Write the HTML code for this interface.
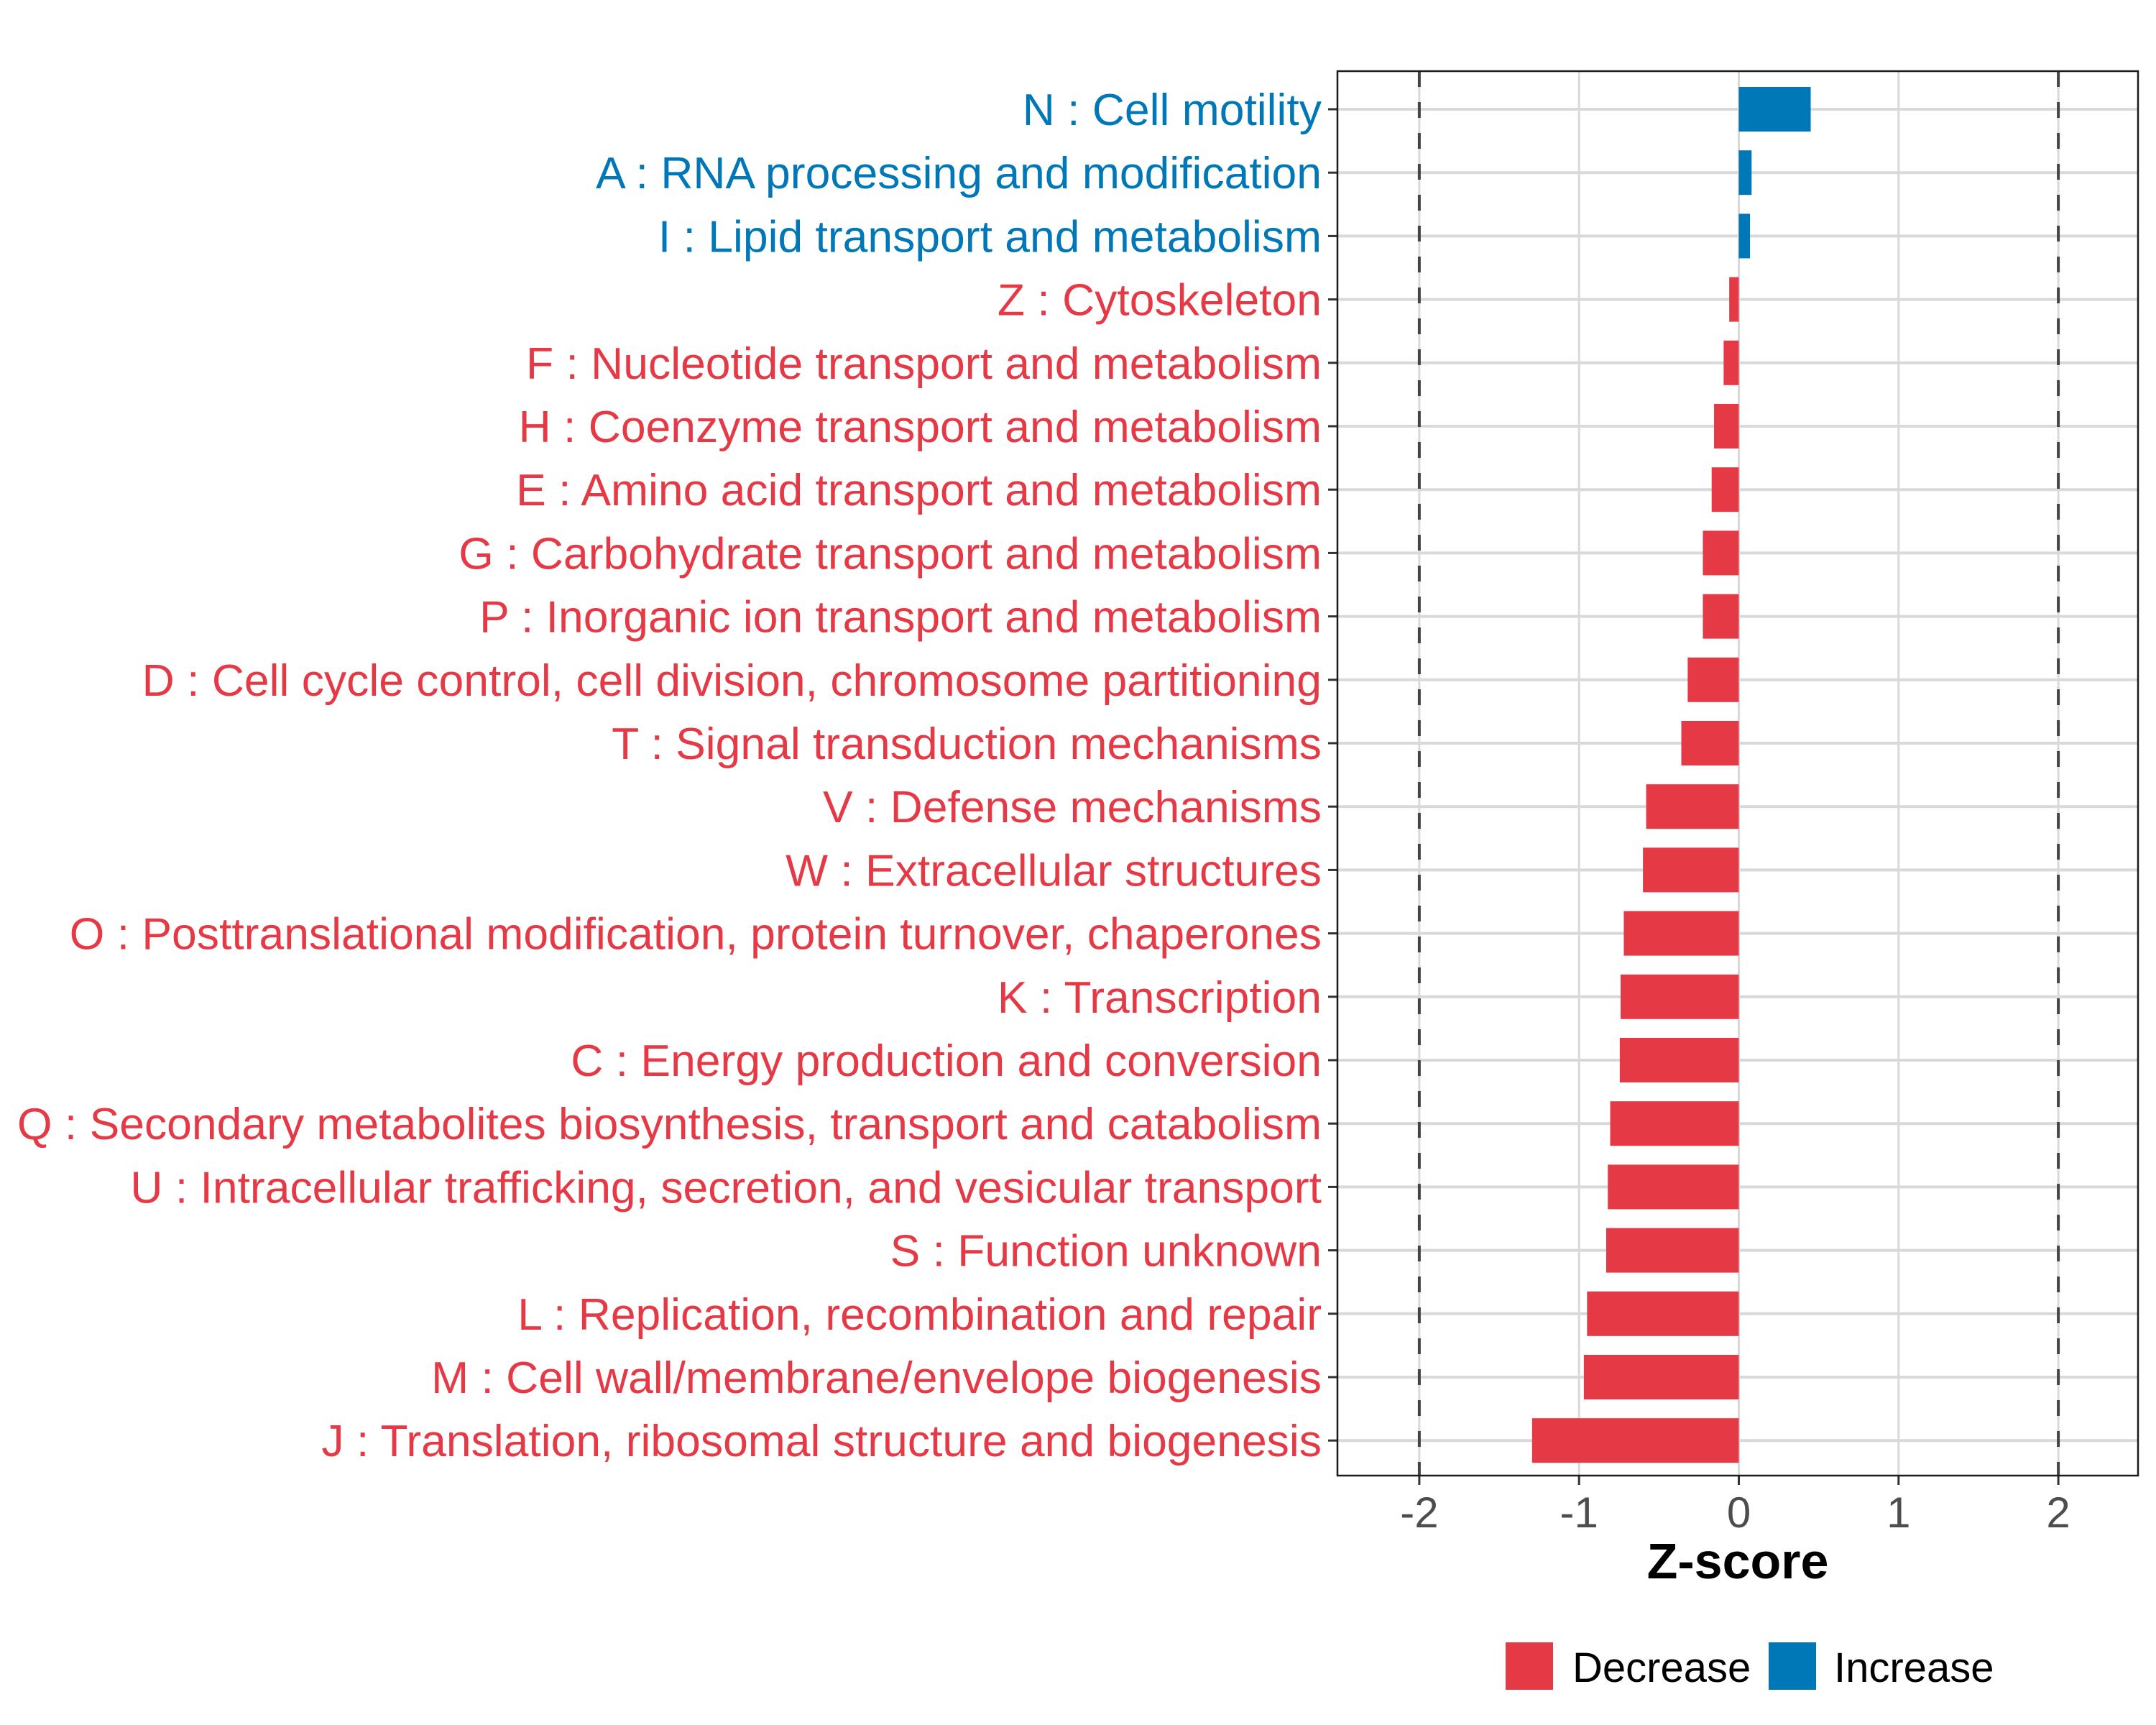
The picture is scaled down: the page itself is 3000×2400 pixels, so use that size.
<!DOCTYPE html>
<html><head><meta charset="utf-8"><style>
html,body{margin:0;padding:0;background:#fff;}
svg{display:block;font-family:"Liberation Sans",sans-serif;}
</style></head><body>
<svg id="chart" width="3000" height="2400" viewBox="0 0 3000 2400" xmlns="http://www.w3.org/2000/svg">
<rect width="3000" height="2400" fill="#fff"/>
<g id="grid"></g><g id="bars"></g><g id="labels"></g><g id="axis"></g>
<rect x="1861" y="99" width="1114" height="1954" fill="none" stroke="#1a1a1a" stroke-width="2.5"/>
<text x="2418" y="2196" text-anchor="middle" font-size="70" font-weight="bold" fill="#000">Z-score</text>
<rect x="2095" y="2285" width="66" height="66" fill="#E63946"/>
<text x="2188" y="2340" font-size="58" fill="#000">Decrease</text>
<rect x="2461" y="2285" width="66" height="66" fill="#0077B6"/>
<text x="2552" y="2340" font-size="58" fill="#000">Increase</text>
</svg>
<script>
const categories=["N : Cell motility","A : RNA processing and modification","I : Lipid transport and metabolism","Z : Cytoskeleton","F : Nucleotide transport and metabolism","H : Coenzyme transport and metabolism","E : Amino acid transport and metabolism","G : Carbohydrate transport and metabolism","P : Inorganic ion transport and metabolism","D : Cell cycle control, cell division, chromosome partitioning","T : Signal transduction mechanisms","V : Defense mechanisms","W : Extracellular structures","O : Posttranslational modification, protein turnover, chaperones","K : Transcription","C : Energy production and conversion","Q : Secondary metabolites biosynthesis, transport and catabolism","U : Intracellular trafficking, secretion, and vesicular transport","S : Function unknown","L : Replication, recombination and repair","M : Cell wall/membrane/envelope biogenesis","J : Translation, ribosomal structure and biogenesis"];
const zscores=[0.45,0.08,0.07,-0.06,-0.095,-0.155,-0.17,-0.225,-0.225,-0.32,-0.36,-0.58,-0.60,-0.72,-0.74,-0.745,-0.805,-0.82,-0.83,-0.95,-0.97,-1.294];
const xTicks=[-2,-1,0,1,2];
const xTickLabels=["-2","-1","0","1","2"];
const thresholds=[-2,2];
const NS="http://www.w3.org/2000/svg";
const X0=2419.5,UNIT=222.3,Y0=152,STEP=88.2,BAR_H=62,PL=1861,PR=2975,PT=99,PB=2053;
function xs(v){return X0+v*UNIT;}
function ys(i){return Y0+i*STEP;}
function mk(tag,attrs,parent){const e=document.createElementNS(NS,tag);for(const k in attrs)e.setAttribute(k,attrs[k]);parent.appendChild(e);return e;}
const grid=document.getElementById('grid'),bars=document.getElementById('bars'),labels=document.getElementById('labels'),axis=document.getElementById('axis');
xTicks.forEach((t,i)=>{
  const g=mk('line',{x1:xs(t),x2:xs(t),y1:PT,y2:PB,stroke:'#d9d9d9','stroke-width':3},grid);
  
  
  const tk=mk('line',{x1:xs(t),x2:xs(t),y1:PB,y2:PB+13,stroke:'#333','stroke-width':3},axis);
  
  
  const tl=mk('text',{x:xs(t),y:PB+72,'text-anchor':'middle','font-size':60,fill:'#4d4d4d'},axis);
  tl.textContent=xTickLabels[i];
  
  
});
categories.forEach((c,i)=>{
  const g=mk('line',{x1:PL,x2:PR,y1:ys(i),y2:ys(i),stroke:'#d9d9d9','stroke-width':4},grid);
  
  
});
thresholds.forEach(t=>{
  const d=mk('line',{x1:xs(t),x2:xs(t),y1:PT,y2:PB,stroke:'#444','stroke-width':4,'stroke-dasharray':'22 21'},grid);
  
  
});
categories.forEach((c,i)=>{
  const v=zscores[i];const col=v>=0?'#0077B6':'#E63946';
  const x=Math.min(xs(0),xs(v)),w=Math.abs(xs(v)-xs(0));
  const b=mk('rect',{x:x,y:ys(i)-BAR_H/2,width:w,height:BAR_H,fill:col},bars);
  
  
  const tk=mk('line',{x1:PL-13,x2:PL,y1:ys(i),y2:ys(i),stroke:'#333','stroke-width':3},axis);
  
  
  const t=mk('text',{x:PL-22,y:ys(i)+22,'text-anchor':'end','font-size':62,fill:col},labels);
  t.textContent=c;
  
  
  const L=t.getComputedTextLength();
  if(L>0){t.setAttribute('textLength',(L*1.007).toFixed(1));t.setAttribute('lengthAdjust','spacingAndGlyphs');}
});
</script>
</body></html>
